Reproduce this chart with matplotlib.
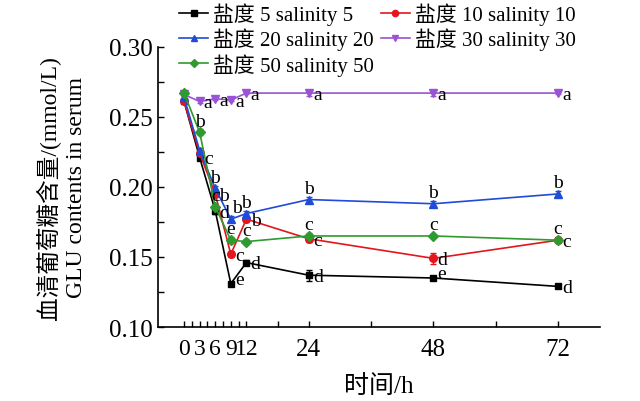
import numpy as np
import matplotlib
matplotlib.use('Agg')
import matplotlib.pyplot as plt
from matplotlib.lines import Line2D

plt.rcParams['font.family'] = ['Liberation Serif', 'Noto Sans CJK SC', 'DejaVu Sans']

# sampling times (h)
hours = [0, 3, 6, 9, 12, 24, 48, 72]

# serum GLU (mmol/L)
sal5 = [0.261, 0.221, 0.183, 0.131, 0.146, 0.137, 0.135, 0.129]
sal10 = [0.261, 0.224, 0.195, 0.152, 0.177, 0.163, 0.149, 0.162]
sal20 = [0.264, 0.226, 0.199, 0.177, 0.181, 0.191, 0.188, 0.195]
sal30 = [0.266, 0.261, 0.263, 0.262, 0.267, 0.267, 0.267, 0.267]
sal50 = [0.267, 0.239, 0.186, 0.162, 0.161, 0.165, 0.165, 0.162]

err5 = [0.001, 0.002, 0.002, 0.001, 0.002, 0.004, 0.001, 0.001]
err10 = [0.001, 0.002, 0.002, 0.002, 0.002, 0.002, 0.004, 0.001]
err20 = [0.001, 0.002, 0.002, 0.002, 0.002, 0.002, 0.002, 0.002]
err30 = [0.001, 0.001, 0.001, 0.001, 0.001, 0.002, 0.002, 0.001]
err50 = [0.001, 0.002, 0.002, 0.002, 0.002, 0.002, 0.001, 0.002]

# significance letters
let5 = ['', 'c', 'd', 'e', 'd', 'd', 'e', 'd']
let10 = ['', '', 'b', 'c', 'b', 'c', 'd', 'c']
let20 = ['', '', 'b', 'b', 'b', 'b', 'b', 'b']
let30 = ['', 'a', 'a', 'a', 'a', 'a', 'a', 'a']
let50 = ['', 'b', 'c', 'e', 'c', 'c', 'c', 'c']

labels = ['盐度 5 salinity 5', '盐度 10 salinity 10', '盐度 20 salinity 20',
          '盐度 30 salinity 30', '盐度 50 salinity 50']

series = [sal5, sal10, sal20, sal30, sal50]
errs = [err5, err10, err20, err30, err50]
letters = [let5, let10, let20, let30, let50]
colors = ['#000000', '#e3161d', '#1f4bd8', '#9a52d6', '#2f9a2f']
markers = ['s', 'o', '^', 'v', 'D']
msizes = [5, 5.5, 6, 6, 5]
# where each letter sits: r = right, u = above, ru = right and a bit up
place = [
    ['', 'r', 'r', 'ru', 'r', 'r', 'ru', 'r'],
    ['', '', 'r', 'r', 'r', 'r', 'r', 'r'],
    ['', '', 'u', 'ur', 'u', 'u', 'u', 'u'],
    ['', 'r', 'r', 'r', 'r', 'r', 'r', 'r'],
    ['', 'u', 'u', 'u', 'u', 'u', 'u', 'u'],
]
offs = {'r': (3, -1, 'left', 'center'), 'u': (0, 2, 'center', 'bottom'),
        'ru': (3, 3, 'left', 'center'), 'ur': (1, 2, 'left', 'bottom')}

fig = plt.figure(figsize=(6.4, 4.02), dpi=100)
ax = fig.add_axes([0.247, 0.184, 0.69, 0.697])

handles = []
for y, e, lab, c, m, ms in zip(series, errs, labels, colors, markers, msizes):
    ax.errorbar(hours, y, yerr=e, color=c, marker=m, markersize=ms,
                linewidth=1.2, capsize=2, elinewidth=1)
    handles.append(Line2D([], [], color=c, marker=m, markersize=ms - 1,
                          linewidth=1.2))

for y, lets, pl in zip(series, letters, place):
    for x, v, t, p in zip(hours, y, lets, pl):
        if not t:
            continue
        dx, dy, ha, va = offs[p]
        ax.annotate(t, (x, v), xytext=(dx, dy), textcoords='offset points',
                    ha=ha, va=va, fontsize=14, color='black')

ax.set_xlim(-5, 80)
ax.set_ylim(0.10, 0.30)
ax.set_xticks([0, 3, 6, 9, 12, 24, 48, 72])
ax.set_xticklabels(['0', '3', '6', '9', '12', '24', '48', '72'])
ax.set_xticks([1.5, 4.5, 7.5, 10.5, 18, 36, 60], minor=True)
ax.set_yticks([0.10, 0.15, 0.20, 0.25, 0.30])
ax.set_yticklabels(['0.10', '0.15', '0.20', '0.25', '0.30'])
ax.set_yticks([0.125, 0.175, 0.225, 0.275], minor=True)
ax.tick_params(which='both', direction='in', length=4, width=1, labelsize=18)
ax.tick_params(axis='x', pad=8)
for lbl in ax.get_xticklabels()[:5]:
    lbl.set_fontsize(17)
ax.spines['top'].set_visible(False)
ax.spines['right'].set_visible(False)
ax.spines['left'].set_linewidth(1.2)
ax.spines['bottom'].set_linewidth(1.2)

ax.set_xlabel('时间/h', fontsize=18, labelpad=10)
ax.set_ylabel('血清葡萄糖含量/(mmol/L)\nGLU contents in serum', fontsize=17,
              linespacing=1.3, labelpad=16)

order = [0, 2, 4, 1, 3]
fig.legend([handles[i] for i in order], [labels[i] for i in order],
           loc='upper left', bbox_to_anchor=(0.257, 1.027), ncol=2,
           frameon=False, fontsize=15, handlelength=1.4, handletextpad=0.25,
           labelspacing=0.12, columnspacing=0.3, borderpad=0.2)

fig.savefig('out.png', dpi=100)
